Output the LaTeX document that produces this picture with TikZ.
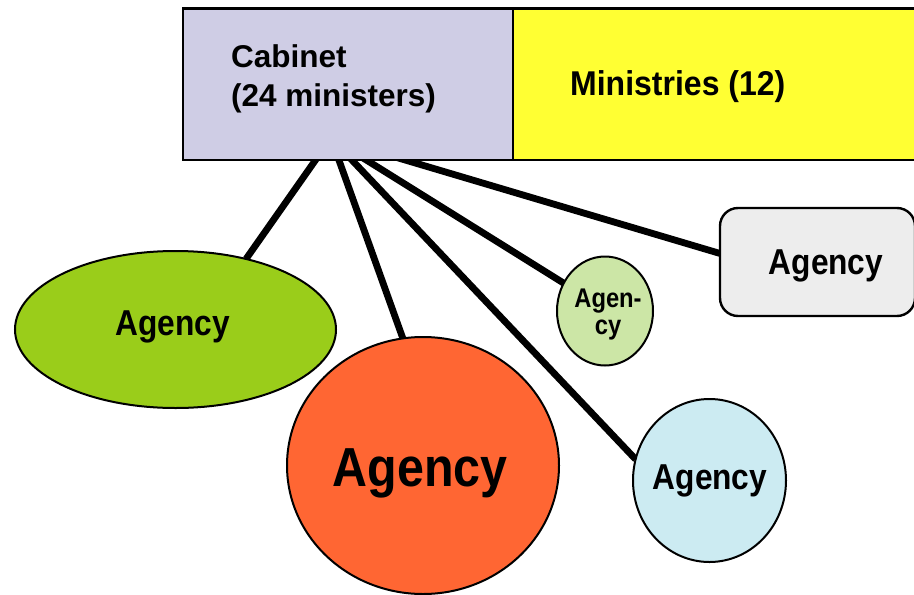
\documentclass[tikz,border=0pt]{standalone}
\usepackage{fontspec}
\setmainfont{Liberation Sans}
\newfontfamily\condfont{Liberation Sans}[FakeStretch=0.88]
\newfontfamily\headfont{Liberation Sans}[FakeStretch=0.93]
\usetikzlibrary{backgrounds,shapes.geometric}

\definecolor{cabinetfill}{HTML}{CFCDE5}
\definecolor{ministryfill}{HTML}{FFFF33}
\definecolor{limefill}{HTML}{9ACD1A}
\definecolor{palegreen}{HTML}{CCE6A6}
\definecolor{orangefill}{HTML}{FF6633}
\definecolor{paleblue}{HTML}{CCEBF2}
\definecolor{palegray}{HTML}{EDEDED}

\tikzset{
  headbox/.style={draw=black, line width=2.6pt, inner sep=0pt, outer sep=0pt},
  agencyshape/.style={ellipse, draw=black, line width=2pt, inner sep=0pt, outer sep=0pt},
  agencytext/.style={inner sep=0pt, anchor=base, text=black},
  conn/.style={draw=black, line width=6.8pt},
}

\begin{document}
\begin{tikzpicture}[x=1pt, y=-1pt]
  \useasboundingbox (0,0) rectangle (914,595);

  % header boxes
  \node[headbox, fill=cabinetfill, minimum width=330pt, minimum height=151.5pt]
    (cabinet) at (348,84.25) {};
  \node[headbox, fill=ministryfill, minimum width=417pt, minimum height=151.5pt]
    (ministries) at (721.5,84.25) {};
  % multi-line text: the base anchor sits on the last line
  \node[inner sep=0pt, anchor=base west, align=left,
        font=\bfseries\fontsize{31.5}{39}\selectfont]
    (cabinettxt) at (231,106) {Cabinet\\(24 ministers)};
  \node[inner sep=0pt, anchor=base west,
        font=\headfont\bfseries\fontsize{34.4}{39}\selectfont]
    (ministriestxt) at (570,95) {Ministries (12)};

  % agencies
  \node[agencyshape, fill=limefill, minimum width=321pt, minimum height=157pt]
    (ag1) at (175.5,329.5) {};
  \node[agencyshape, fill=orangefill, minimum width=272pt, minimum height=257pt]
    (ag2) at (423,465.5) {};
  \node[agencyshape, fill=paleblue, minimum width=153pt, minimum height=163pt]
    (ag3) at (709.5,480.5) {};
  \node[agencyshape, fill=palegreen, minimum width=96pt, minimum height=109pt]
    (ag4) at (605,311) {};
  \node[draw=black, line width=2.4pt, fill=palegray, rounded corners=18pt,
        inner sep=0pt, outer sep=0pt, minimum width=195pt, minimum height=108pt]
    (ag5) at (817.5,262) {};

  \node[agencytext, font=\condfont\bfseries\fontsize{36}{40}\selectfont]
    (ag1txt) at (172.5,335) {Agency};
  \node[agencytext, font=\condfont\bfseries\fontsize{55}{60}\selectfont]
    (ag2txt) at (420,486) {Agency};
  \node[agencytext, font=\condfont\bfseries\fontsize{36}{40}\selectfont]
    (ag3txt) at (710,489) {Agency};
  \node[agencytext, align=center, font=\condfont\bfseries\fontsize{27}{27}\selectfont]
    (ag4txt) at (608,334) {Agen-\\cy};
  \node[agencytext, font=\condfont\bfseries\fontsize{36}{40}\selectfont]
    (ag5txt) at (826,274) {Agency};

  % connectors from the cabinet to each agency
  \coordinate (hub) at (331,138);
  \begin{scope}[on background layer]
    \draw[conn] (hub) -- (ag1.45);
    \draw[conn] (hub) -- (ag2.99);
    \draw[conn] (hub) -- (ag3.164.6);
    \draw[conn] (hub) -- (ag4.146.4);
    \draw[conn] (hub) -- (ag5.175.3);
  \end{scope}
\end{tikzpicture}
\end{document}
